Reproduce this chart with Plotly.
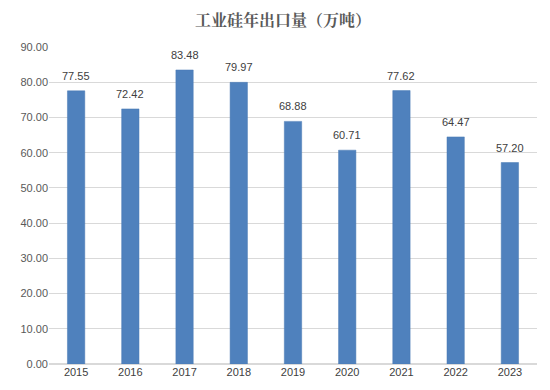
import plotly.graph_objects as go

years = ["2015", "2016", "2017", "2018", "2019", "2020", "2021", "2022", "2023"]
exports = [77.55, 72.42, 83.48, 79.97, 68.88, 60.71, 77.62, 64.47, 57.20]
title_text = "<b>工业硅年出口量（万吨）</b>"

fig = go.Figure(go.Bar(
    x=years, y=exports,
    marker=dict(color="#4f81bd", line=dict(color="#4a7ab5", width=0.5)),
    cliponaxis=False,
    width=0.32,
))

# on a category axis, annotation x is the category's serial index
for i, v in enumerate(exports):
    fig.add_annotation(x=i, y=v, xref="x", yref="y", text=f"{v:.2f}", showarrow=False,
                       yanchor="bottom", yshift=7,
                       font=dict(size=11, color="#404040", family="Liberation Sans, Arial"))

fig.update_layout(
    width=550, height=390,
    margin=dict(l=38, r=21, t=39, b=34),
    paper_bgcolor="white", plot_bgcolor="white",
    title=dict(text=title_text, x=0.5, xanchor="center", y=0.969, yanchor="middle",
               font=dict(size=16, color="#595959", family="Noto Serif CJK SC, Noto Sans CJK SC")),
    showlegend=False,
    font=dict(family="Liberation Sans, Arial", size=11, color="#595959"),
)
fig.update_yaxes(range=[0, 90], dtick=10, tickformat=".2f", showgrid=True,
                 gridcolor="#d9d9d9", gridwidth=1, zeroline=True, zerolinecolor="#d9d9d9",
                 showline=False, ticks="", tickfont=dict(size=11, color="#595959"))
fig.update_xaxes(type="category", range=[-0.5, len(years) - 0.5], showline=False, ticks="",
                 tickfont=dict(size=11, color="#404040"))

fig.write_html("out.html")
